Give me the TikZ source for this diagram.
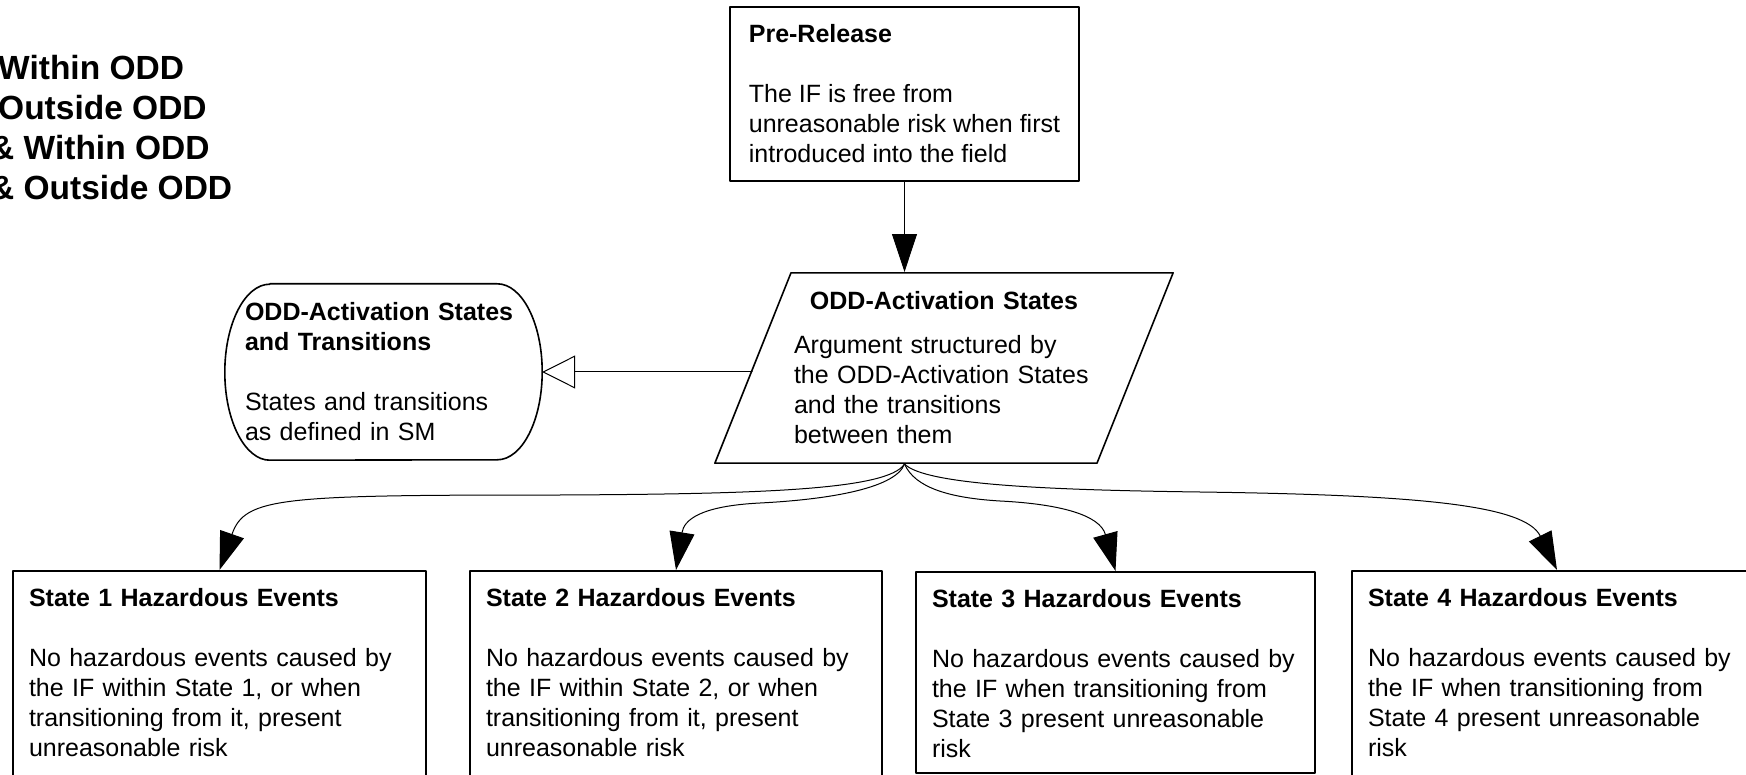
\documentclass[tikz,border=0pt]{standalone}
\usepackage{fontspec}
\setmainfont{Liberation Sans}
\usetikzlibrary{arrows.meta,shapes.geometric}

\begin{document}
\begin{tikzpicture}[
	x=1pt, y=-1pt,
	every node/.style={font=\fontsize{25}{30}\selectfont},
	line cap=round,
	line join=round,
	box/.style={draw, line width=1.6pt, align=left},
	hazbox/.style={box, anchor=north, inner xsep=16pt, inner ysep=8pt, text height=28pt, text depth=176pt},
	conn/.style={line width=1pt, -{Triangle[length=38pt, width=25pt]}}
	]
	\useasboundingbox (0,0) rectangle (1746,775);
	\clip (0,0) rectangle (1746,775);
	
	% Legend, cut off on the left
	\foreach \i/\x/\t in {1/-2/Within ODD, 2/-2/Outside ODD, 3/-10/\& Within ODD, 4/-10/\& Outside ODD}
	\node[anchor=base west, inner sep=0pt, font=\fontsize{33.5}{40}\selectfont\bfseries] (leg\i) at (\x,40*\i+40) {\t};
	
	% Pre-Release
	\node[box, minimum width=349pt, minimum height=174pt] (pre) at (904.5,94)
	{\textbf{Pre-Release}\\[30pt]The IF is free from\\unreasonable risk when first\\introduced into the field};
	
	% Strategy
	\node[box, shape=trapezium, trapezium left angle=68.2, trapezium right angle=111.8,
	text width=300pt, inner xsep=3pt, inner ysep=19pt] (odd) at (944,368)
	{{\centering\bfseries ODD-Activation States\par}\vspace{14pt}Argument structured by\\the ODD-Activation States\\and the transitions\\between them};
	
	% Context
	\node[align=left, text width=277pt, inner xsep=20pt, minimum width=317pt, minimum height=176pt] (ctx) at (383.5,372)
	{\textbf{ODD-Activation States}\\\textbf{and Transitions}\\[30pt]States and transitions\\as defined in SM};
	\draw[line width=1.6pt] ([xshift=45pt]ctx.north west) -- ([xshift=-45pt]ctx.north east)
	arc[start angle=90, end angle=-90, x radius=45pt, y radius=88pt]
	-- ([xshift=45pt]ctx.south west)
	arc[start angle=270, end angle=90, x radius=45pt, y radius=88pt] -- cycle;
	
	% Hazardous events per state
	\node[hazbox, text width=381pt] (s1) at (219.5,570)
	{\textbf{State 1 Hazardous Events}\\[30pt]No hazardous events caused by\\the IF within State 1, or when\\transitioning from it, present\\unreasonable risk};
	\node[hazbox, text width=380pt] (s2) at (676,570)
	{\textbf{State 2 Hazardous Events}\\[30pt]No hazardous events caused by\\the IF within State 2, or when\\transitioning from it, present\\unreasonable risk};
	\node[hazbox, text width=367pt, text depth=157pt] (s3) at (1115.5,571)
	{\textbf{State 3 Hazardous Events}\\[30pt]No hazardous events caused by\\the IF when transitioning from\\State 3 present unreasonable\\risk};
	\node[hazbox, text width=378pt] (s4) at (1557,570)
	{\textbf{State 4 Hazardous Events}\\[30pt]No hazardous events caused by\\the IF when transitioning from\\State 4 present unreasonable\\risk};
	
	% Connectors
	\coordinate (fork) at (odd.south -| pre.south);
	\draw[conn] (pre.south) -- (pre.south |- odd.north);
	\draw[line width=1pt, -{Triangle[open, length=33pt, width=33pt]}] (odd.left side |- ctx.east) -- (ctx.east);
	\draw[conn] (fork) .. controls (888,490) and (760,494) .. (560,495) .. controls (280,495) and (245,497) .. (s1.north);
	\draw[conn] (fork) .. controls (895,490) and (820,500) .. (760,503) .. controls (700,506) and (684,520) .. (s2.north);
	\draw[conn] (fork) .. controls (915,488) and (950,498) .. (1000,501) .. controls (1060,504) and (1100,515) .. (s3.north);
	\draw[conn] (fork) .. controls (925,485) and (1050,490) .. (1200,492) .. controls (1420,495) and (1525,505) .. (s4.north);
\end{tikzpicture}
\end{document}
